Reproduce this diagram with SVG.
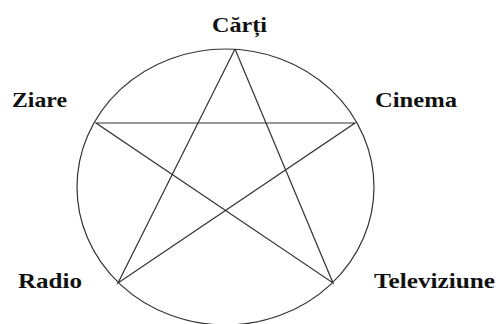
<svg xmlns="http://www.w3.org/2000/svg" width="499" height="324" viewBox="0 0 499 324">
<style>
.lbl{font-family:"Liberation Serif","Times New Roman",serif;font-weight:bold;font-size:22px;fill:#111}
.ln{stroke:#333;stroke-width:1.2;fill:none}
</style>
<rect width="499" height="324" fill="#fff"/>
<g id="connectors">
<ellipse class="ln" cx="225.5" cy="187" rx="148.5" ry="138"/>
<polyline class="ln" points="235,49 118,283 355,123 96,123 333,283 235,49"/>
</g>
<g id="carti"><text class="lbl" x="212" y="32" textLength="55" lengthAdjust="spacingAndGlyphs">Cărți</text></g>
<g id="ziare"><text class="lbl" x="12" y="107" textLength="55" lengthAdjust="spacingAndGlyphs">Ziare</text></g>
<g id="cinema"><text class="lbl" x="375" y="107" textLength="82" lengthAdjust="spacingAndGlyphs">Cinema</text></g>
<g id="radio"><text class="lbl" x="18" y="288" textLength="64" lengthAdjust="spacingAndGlyphs">Radio</text></g>
<g id="televiziune"><text class="lbl" x="374" y="288" textLength="121" lengthAdjust="spacingAndGlyphs">Televiziune</text></g>
</svg>
